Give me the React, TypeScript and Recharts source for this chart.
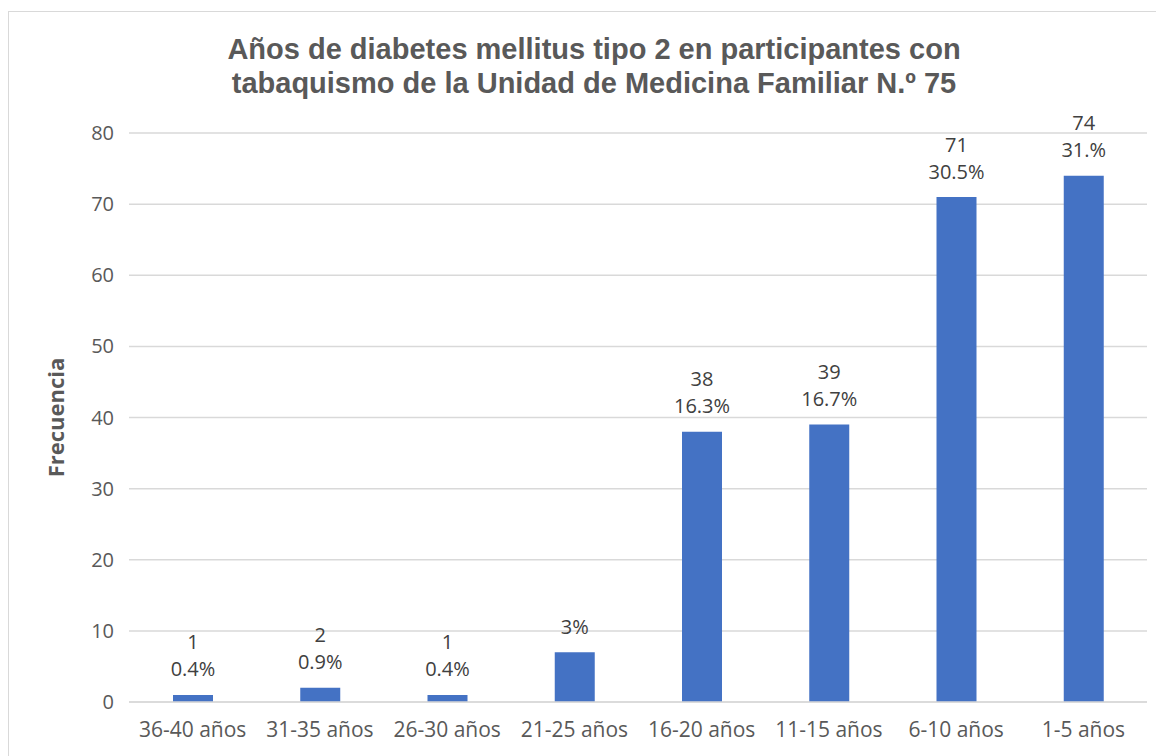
import { BarChart, Bar, XAxis, YAxis, CartesianGrid, LabelList, Label } from "recharts";

// datos
const categories = ["36-40 años", "31-35 años", "26-30 años", "21-25 años", "16-20 años", "11-15 años", "6-10 años", "1-5 años"];
const frecuencias = [1, 2, 1, 7, 38, 39, 71, 74];
const valueLabels = ["1", "2", "1", "", "38", "39", "71", "74"];
const pctLabels = ["0.4%", "0.9%", "0.4%", "3%", "16.3%", "16.7%", "30.5%", "31.%"];
const yTicks = [0, 10, 20, 30, 40, 50, 60, 70, 80];

const FONT = "'Open Sans', sans-serif";
const GRAY = "#595959";

const chartData = categories.map((c, i) => ({
    categoria: c,
    frecuencia: frecuencias[i],
    pct: pctLabels[i],
}));

const BarLabel = (props: any) => {
    const { x, y, width, index } = props;
    const cx = x + width / 2;
    const v = valueLabels[index];
    const p = pctLabels[index];
    return (
        <g fontFamily={FONT} fontSize={20} fill="#404040" textAnchor="middle">
            {v && <text x={cx} y={y - 53} dominantBaseline="central">{v}</text>}
            <text x={cx} y={y - 26} dominantBaseline="central">{p}</text>
        </g>
    );
};

const App = () => {
    return (
        <div style={{ position: "relative", width: 1156, height: 748, overflow: "hidden", background: "#fff" }}>
            <div style={{ position: "absolute", left: 0, top: 3, width: 1170, height: 800, border: "1px solid #d9d9d9", boxSizing: "border-box" }} />
            <div style={{
                position: "absolute", left: 0, top: 24, width: 1172, textAlign: "center",
                fontFamily: "'Liberation Sans', Arial, sans-serif", fontWeight: "bold", fontSize: 29,
                lineHeight: "34px", color: GRAY,
            }}>
                Años de diabetes mellitus tipo 2 en participantes con<br />
                tabaquismo de la Unidad de Medicina Familiar N.º 75
            </div>
            <div style={{ position: "absolute", left: 0, top: 0 }}>
                <BarChart width={1156} height={748} data={chartData} margin={{ top: 125, right: 17, left: 0, bottom: 0 }}>
                    <CartesianGrid vertical={false} stroke="#d9d9d9" strokeWidth={1.5} />
                    <XAxis dataKey="categoria" height={54} tickLine={false} axisLine={{ stroke: "#d9d9d9", strokeWidth: 1.5 }}
                        tickSize={0} tickMargin={20} interval={0}
                        tick={{ fontFamily: FONT, fontSize: 21, fill: GRAY }} />
                    <YAxis domain={[0, 80]} ticks={yTicks} width={121} tickLine={false} axisLine={false}
                        tickSize={0} tickMargin={15} tick={{ fontFamily: FONT, fontSize: 20, fill: GRAY }}>
                        <Label value="Frecuencia" angle={-90} position="insideLeft" offset={48}
                            style={{ fontFamily: FONT, fontSize: 22, fontWeight: "bold", fill: GRAY, textAnchor: "middle" }} />
                    </YAxis>
                    <Bar dataKey="frecuencia" fill="#4472C4" barSize={40} isAnimationActive={false}>
                        <LabelList dataKey="pct" content={BarLabel} />
                    </Bar>
                </BarChart>
            </div>
        </div>
    );
};

export default App;
